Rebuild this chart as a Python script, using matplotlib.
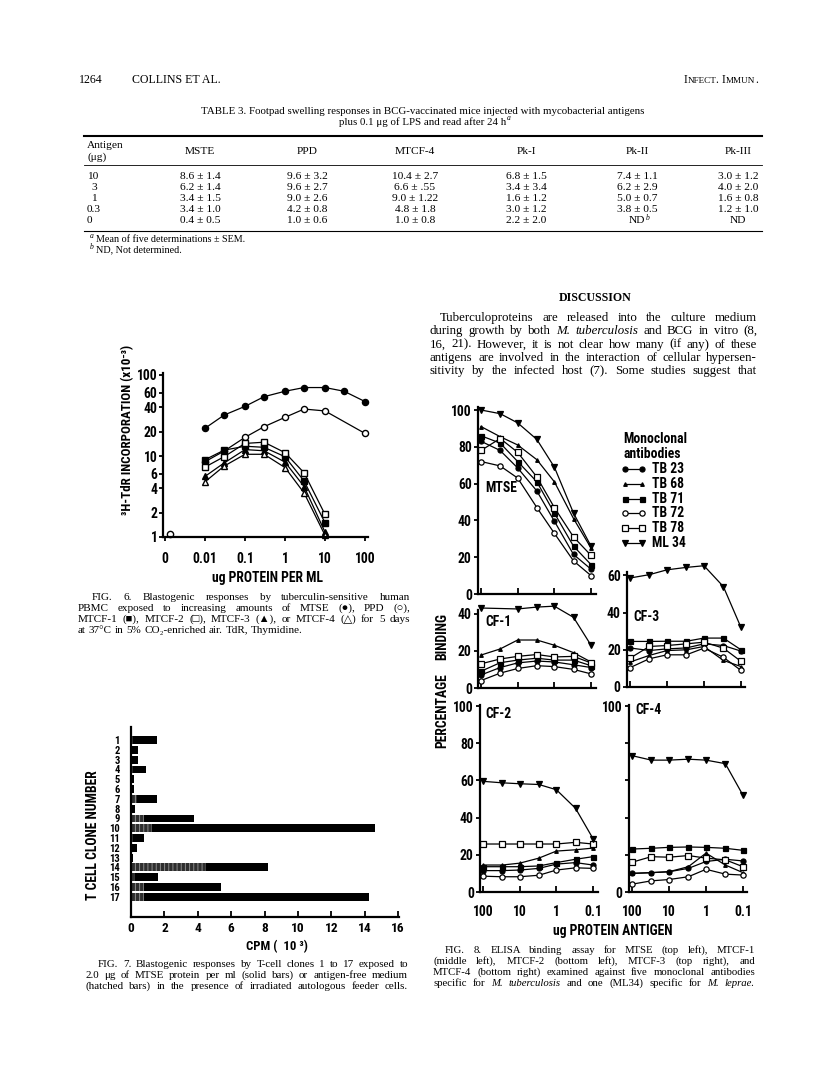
import numpy as np
import matplotlib
matplotlib.use('Agg')
import matplotlib.pyplot as plt
from matplotlib import font_manager as fm

W, H = 816, 1077

# ---------------- data ----------------
TABLE_TITLE = ['TABLE 3. Footpad swelling responses in BCG-vaccinated mice injected with mycobacterial antigens',
               'plus 0.1 \u03bcg of LPS and read after 24 h']
TABLE_COLS = ['MSTE', 'PPD', 'MTCF-4', 'Pk-I', 'Pk-II', 'Pk-III']
TABLE_DOSES = ['10', '3', '1', '0.3', '0']
TABLE_MEAN = [['8.6', '9.6', '10.4', '6.8', '7.4', '3.0'],
              ['6.2', '9.6', '6.6', '3.4', '6.2', '4.0'],
              ['3.4', '9.0', '9.0', '1.6', '5.0', '1.6'],
              ['3.4', '4.2', '4.8', '3.0', '3.8', '1.2'],
              ['0.4', '1.0', '1.0', '2.2', 'ND', 'ND']]
TABLE_SEM = [['1.4', '3.2', '2.7', '1.5', '1.1', '1.2'],
             ['1.4', '2.7', '.55', '3.4', '2.9', '2.0'],
             ['1.5', '2.6', '1.22', '1.2', '0.7', '0.8'],
             ['1.0', '0.8', '1.8', '1.2', '0.5', '1.0'],
             ['0.5', '0.6', '0.8', '2.0', None, None]]

FIG6_DOSE = [0.01, 0.03, 0.1, 0.3, 1, 3, 10, 30, 100]
FIG6_MTSE = [22, 32, 41, 54, 63, 70, 70, 63, 47]
FIG6_PPD_DOSE = [0.01, 0.03, 0.1, 0.3, 1, 3, 10, 100]
FIG6_PPD = [8.5, 11.5, 17, 23, 30, 38, 36, 19]
FIG6_CF_DOSE = [0.01, 0.03, 0.1, 0.3, 1, 3, 10]
FIG6_MTCF1 = [9.0, 11.8, 13.2, 12.8, 9.8, 4.9, 1.5]
FIG6_MTCF2 = [7.3, 9.8, 14.3, 14.8, 11.0, 6.2, 1.9]
FIG6_MTCF3 = [5.6, 8.2, 12.0, 11.6, 8.4, 4.2, 1.15]
FIG6_MTCF4 = [4.8, 7.5, 10.5, 10.5, 7.2, 3.5, 1.05]
FIG6_CONTROL = 1.1

FIG7_CLONES = [str(i) for i in range(1, 18)]
FIG7_MTSE = [1.55, 0.4, 0.4, 0.88, 0.2, 0.2, 1.53, 0.24, 3.75, 14.6, 0.8, 0.36, 0.14, 8.2, 1.6, 5.4, 14.26]
FIG7_MEDIUM = [0.1, 0.05, 0.05, 0.1, 0.05, 0.05, 0.35, 0.05, 0.75, 1.25, 0.1, 0.05, 0.05, 4.5, 0.25, 0.75, 0.8]

FIG8_DOSE = [100, 30, 10, 3, 1, 0.3, 0.1]
ANTIBODIES = ['TB 23', 'TB 68', 'TB 71', 'TB 72', 'TB 78', 'ML 34']
nan = np.nan
MTSE_BIND = {'TB 23': [83, 78, 68.5, 56, 39.6, 21.5, 13.5],
             'TB 68': [91, 85.5, 81, 73, 61, 41, 25],
             'TB 71': [86, 82, 72, 61, 44, 26, 16],
             'TB 72': [72, 69.6, 63, 47, 33, 18, 10],
             'TB 78': [78, 84.5, 77, 63.6, 47, 31, 21],
             'ML 34': [100, 98, 93, 84, 69, 44, 26]}
CF1_BIND = {'TB 23': [7, 11, 13.5, 14.5, 14, 12.5, 11],
            'TB 68': [17.7, 21, 25.8, 25.8, 23, 19, 14],
            'TB 71': [9, 13.6, 15, 16, 15, 15, 12],
            'TB 72': [4, 8, 10.5, 12, 11.5, 10, 7.6],
            'TB 78': [13, 15.6, 17, 18, 16.7, 17, 13.5],
            'ML 34': [43, nan, 42.5, 43.5, 44, 38, 23]}
CF2_BIND = {'TB 23': [11.5, 11.5, 11.8, 12.7, 15, 15.8, 14.5],
            'TB 68': [14.5, 14.5, 15.5, 18.2, 22, 22.7, 23.6],
            'TB 71': [13.6, 13.6, 13.6, 14, 15.8, 17.6, 19],
            'TB 72': [8.5, 8.2, 8.2, 9, 11.8, 13, 12.7],
            'TB 78': [25.8, 25.8, 25.8, 25.8, 25.8, 26.7, 25.8],
            'ML 34': [59.5, 58.7, 58.2, 57.8, 55, 45, 28.7]}
CF3_BIND = {'TB 23': [21, 19.6, 20.5, 21, 23.2, 22.3, 19.3],
            'TB 68': [13.4, 17, 19.6, 20, 21.8, 14.3, 11],
            'TB 71': [24.5, 24.5, 24.6, 24.6, 26.3, 26.3, 20],
            'TB 72': [10.4, 15.2, 17.3, 17.3, 20.9, 16, 8.9],
            'TB 78': [15.5, 21.8, 22.3, 23.2, 24.1, 20.9, 13.8],
            'ML 34': [58.6, 60.4, 63, 64.3, 65.2, 54, 32]}
CF4_BIND = {'TB 23': [10, 10.4, 10.9, 12.7, 16.4, 17.6, 16.7],
            'TB 68': [10, 10.4, 10.9, 13.6, 20.9, 14.5, 10.4],
            'TB 71': [23.1, 23.5, 24, 24.2, 24, 23.5, 22.4],
            'TB 72': [4.2, 6, 6.7, 8.2, 12.2, 9.6, 9.1],
            'TB 78': [16, 19, 18.7, 19.6, 18.2, 17.3, 13.6],
            'ML 34': [73.3, 70.9, 70.9, 71.4, 70.9, 69, 52]}

BODY = ['Tuberculoproteins are released into the culture medium',
        'during growth by both _M._ _tuberculosis_ and BCG in vitro (8,',
        '16, 21). However, it is not clear how many (if any) of these',
        'antigens are involved in the interaction of cellular hypersen-',
        'sitivity by the infected host (7). Some studies suggest that']
CAP6 = ['FIG. 6. Blastogenic responses by tuberculin-sensitive human',
        'PBMC exposed to increasing amounts of MTSE (\u25cf), PPD (\u25cb),',
        'MTCF-1 (\u25a0), MTCF-2 (\u25a1), MTCF-3 (\u25b2), or MTCF-4 (\u25b3) for 5 days',
        'at 37\u00b0C in 5% CO\u2082-enriched air. TdR, Thymidine.']
CAP7 = ['FIG. 7. Blastogenic responses by T-cell clones 1 to 17 exposed to',
        '2.0 \u03bcg of MTSE protein per ml (solid bars) or antigen-free medium',
        '(hatched bars) in the presence of irradiated autologous feeder cells.']
CAP8 = ['FIG. 8. ELISA binding assay for MTSE (top left), MTCF-1',
        '(middle left), MTCF-2 (bottom left), MTCF-3 (top right), and',
        'MTCF-4 (bottom right) examined against five monoclonal antibodies',
        'specific for _M._ _tuberculosis_ and one (ML34) specific for _M._ _leprae._']

# ---------------- fonts ----------------
SERIF = ['Liberation Serif', 'DejaVu Serif', 'DejaVu Sans']


def pick_condensed():
    entries = fm.fontManager.ttflist
    names = {f.name for f in entries}
    for n in ['Liberation Sans Narrow', 'Roboto Condensed', 'DejaVu Sans Condensed',
              'Noto Sans Condensed', 'Open Sans Condensed', 'Arial Narrow']:
        if n in names:
            return dict(family=[n, 'DejaVu Sans'], weight='bold')
    for f in entries:
        if 'Narrow' in f.name or 'Condensed' in f.name:
            return dict(family=[f.name, 'DejaVu Sans'], weight='bold')
    for f in entries:
        if str(f.stretch) in ('condensed', 'semi-condensed', 'extra-condensed'):
            return dict(family=[f.name, 'DejaVu Sans'], weight='bold', stretch=f.stretch)
    for n in ['Roboto', 'Liberation Sans']:
        if n in names:
            return dict(family=[n, 'DejaVu Sans'], weight='bold')
    return dict(family=['DejaVu Sans'], weight='bold')


CK = pick_condensed()

fig = plt.figure(figsize=(W / 100, H / 100), dpi=100)
R = fig.canvas.get_renderer()
ov = fig.add_axes([0, 0, 1, 1])
ov.set_xlim(0, W)
ov.set_ylim(H, 0)
ov.axis('off')


def txt(x, y, s, size, ha='left', va='center', **kw):
    return fig.text(x / W, 1 - y / H, s, fontsize=size, ha=ha, va=va, **kw)


def width(s, size, **kw):
    t = fig.text(0, 0, s, fontsize=size, **kw)
    w = t.get_window_extent(R).width
    t.remove()
    return w


def para(lines, x0, x1, y0, dy, size, indent=0, justify_last=True, slack=0.95):
    # justified column text; font size fitted to the column, leaving a little slack
    toks = [[(w.strip('_'), w.startswith('_')) for w in ln.split()] for ln in lines]

    def wl(w, it, s):
        return width(w, s, family=SERIF, style='italic' if it else 'normal')
    sp = width('a a', size, family=SERIF) - width('aa', size, family=SERIF)
    nat = [sum(wl(w, it, size) for w, it in t) + sp * (len(t) - 1) + (indent if i == 0 else 0)
           for i, t in enumerate(toks)]
    rng = range(len(toks)) if justify_last else range(len(toks) - 1)
    scale = slack * min((x1 - x0) / nat[i] for i in rng)
    size *= scale
    sp *= scale
    base = 0.33 * size * 100 / 72
    for i, t in enumerate(toks):
        ws = [wl(w, it, size) for w, it in t]
        xs = x0 + (indent if i == 0 else 0)
        last = i == len(toks) - 1
        gap = (x1 - xs - sum(ws)) / (len(t) - 1) if (len(t) > 1 and (justify_last or not last)) else sp * 1.05
        x = xs
        for (w, it), w_ in zip(t, ws):
            txt(x, y0 + i * dy + base, w, size, va='baseline', family=SERIF,
                style='italic' if it else 'normal')
            x += w_ + gap


def axes_px(x0, y0, x1, y1):
    a = fig.add_axes([x0 / W, 1 - y1 / H, (x1 - x0) / W, (y1 - y0) / H])
    a.patch.set_visible(False)
    for s in ['top', 'right']:
        a.spines[s].set_visible(False)
    for s in ['left', 'bottom']:
        a.spines[s].set_linewidth(1.6)
    a.minorticks_off()
    return a


# ---------------- header & table ----------------
txt(79, 80, '1264', 8.6, family=SERIF)
txt(132, 80, 'COLLINS ET AL.', 8.6, family=SERIF)
pieces = [('I', 8.4), ('NFECT', 6.6), ('. ', 8.4), ('I', 8.4), ('MMUN', 6.6), ('.', 8.4)]
tot = sum(width(p, s, family=SERIF) for p, s in pieces)
x = 758 - tot
for p, s in pieces:
    txt(x, 83, p, s, va='baseline', family=SERIF)
    x += width(p, s, family=SERIF)

txt(423, 111, TABLE_TITLE[0], 7.8, ha='center', family=SERIF)
txt(423, 122, TABLE_TITLE[1], 7.8, ha='center', family=SERIF)
w2 = width(TABLE_TITLE[1], 7.8, family=SERIF)
txt(423 + w2 / 2 + 0.5, 118, 'a', 5.5, ha='left', family=SERIF, style='italic')

ov.plot([84, 762], [136, 136], color='k', lw=1.5)
ov.plot([84, 762], [165, 165], color='k', lw=0.6)
ov.plot([84, 762], [231, 231], color='k', lw=0.8)

COL_X = [200, 307, 415, 526, 637, 738]
TS = 8.2
txt(87, 146, 'Antigen', TS, family=SERIF)
txt(87, 157, '(\u03bcg)', TS, family=SERIF)
for cx, c in zip(COL_X, TABLE_COLS):
    txt(cx, 151, c, TS, ha='center', family=SERIF)
DOSE_X = [87, 91, 91, 87, 87]
for i, d in enumerate(TABLE_DOSES):
    y = 176.5 + 11 * i
    txt(DOSE_X[i], y, d, TS, family=SERIF)
    for j, cx in enumerate(COL_X):
        m, s = TABLE_MEAN[i][j], TABLE_SEM[i][j]
        if s is None:
            txt(cx, y, m, TS, ha='center', family=SERIF)
            if j == 4:
                txt(cx + width(m, TS, family=SERIF) / 2 + 0.5, y - 3, 'b', 5.5, family=SERIF, style='italic')
        else:
            txt(cx, y, f'{m} \u00b1 {s}', TS, ha='center', family=SERIF)

txt(90, 236, 'a', 5.5, family=SERIF, style='italic')
txt(96, 239, 'Mean of five determinations \u00b1 SEM.', 7.3, family=SERIF)
txt(90, 247, 'b', 5.5, family=SERIF, style='italic')
txt(96, 250, 'ND, Not determined.', 7.3, family=SERIF)

# ---------------- discussion ----------------
txt(595, 298, 'DISCUSSION', 8.6, ha='center', family=SERIF, weight='bold')
para(BODY, 430, 757, 317, 13.2, 9.0, indent=10, slack=0.95)

# ---------------- Fig 6 ----------------
ax6 = axes_px(163, 373, 368, 537)
ax6.set_xscale('log')
ax6.set_yscale('log')
ax6.set_xlim(10 ** -3.05, 10 ** 2.075)
ax6.set_ylim(1, 10 ** (2 + 2 / 81))
lk = dict(color='k', lw=0.9, ms=4.4, clip_on=False)
ax6.plot(FIG6_DOSE, FIG6_MTSE, marker='o', mfc='k', mec='k', **lk)
ax6.plot(FIG6_PPD_DOSE, FIG6_PPD, marker='o', mfc='w', mec='k', **lk)
ax6.plot(FIG6_CF_DOSE, FIG6_MTCF1, marker='s', mfc='k', mec='k', **lk)
ax6.plot(FIG6_CF_DOSE, FIG6_MTCF2, marker='s', mfc='w', mec='k', **lk)
ax6.plot(FIG6_CF_DOSE, FIG6_MTCF3, marker='^', mfc='k', mec='k', **lk)
ax6.plot(FIG6_CF_DOSE, FIG6_MTCF4, marker='^', mfc='w', mec='k', **lk)
ax6.errorbar([0.0013], [FIG6_CONTROL], yerr=[[0.07], [0.08]], fmt='o', mfc='w', mec='k',
             ms=4.5, ecolor='k', elinewidth=0.9, capsize=0, clip_on=False)
ax6.set_xticks([0.001, 0.01, 0.1, 1, 10, 100])
ax6.set_xticklabels(['0', '0.01', '0.1', '1', '10', '100'], size=9.8, **CK)
ax6.set_yticks([1, 2, 4, 6, 10, 20, 40, 60, 100])
ax6.set_yticklabels(['1', '2', '4', '6', '10', '20', '40', '60', '100'], size=9.8, **CK)
ax6.minorticks_off()
ax6.tick_params(axis='x', direction='out', length=3, width=1.3, pad=8)
ax6.tick_params(axis='y', direction='out', length=3, width=1.3, pad=1)
txt(128, 430, '\u00b3H-TdR INCORPORATION (x10\u207b\u00b3)', 9.4, ha='center', rotation=90, **CK)
txt(267, 578, 'ug PROTEIN PER ML', 9.8, ha='center', **CK)
para(CAP6, 78, 410, 596, 11, 8.2, indent=14, justify_last=False, slack=0.93)

# ---------------- Fig 7 ----------------
ax7 = axes_px(131, 727, 399, 917)
yy = np.arange(1, len(FIG7_CLONES) + 1)
ax7.barh(yy, FIG7_MTSE, height=0.8, color='k', lw=0)
plt.rcParams['hatch.linewidth'] = 0.7
ax7.barh(yy, FIG7_MEDIUM, height=0.8, color='#2e2e2e', hatch='||||', edgecolor='#8a8a8a', lw=0)
ax7.set_xlim(0, 16.05)
ax7.set_ylim(19.06, -0.33)
ax7.set_yticks(yy)
ax7.set_yticklabels(FIG7_CLONES, size=7.6, **CK)
ax7.set_xticks(range(0, 17, 2))
ax7.set_xticklabels([str(v) for v in range(0, 17, 2)], size=9.6, **CK)
ax7.tick_params(axis='y', length=0, pad=8)
ax7.tick_params(axis='x', direction='in', length=4, width=1.3, pad=3.5)
txt(93, 835, 'T CELL CLONE NUMBER', 9.8, ha='center', rotation=90, **CK)
txt(277, 947, 'CPM (  10 \u00b3)', 9.2, ha='center', **CK)
para(CAP7, 85, 408, 963, 11, 8.2, indent=13, slack=0.93)

# ---------------- Fig 8 ----------------
MARK = {'TB 23': ('o', 'k', 3.6), 'TB 68': ('^', 'k', 2.6), 'TB 71': ('s', 'k', 3.6),
        'TB 72': ('o', 'w', 3.8), 'TB 78': ('s', 'w', 4.0), 'ML 34': ('v', 'k', 3.8)}


def elisa(box, xl, top, data, yt, ytl, xlab):
    a = axes_px(*box)
    a.set_xscale('log')
    a.set_xlim(*xl)
    a.set_ylim(0, top)
    for ab in ANTIBODIES:
        v = np.array(data[ab], dtype=float)
        x = np.array(FIG8_DOSE, dtype=float)
        ok = ~np.isnan(v)
        m, fc, ms = MARK[ab]
        a.plot(x[ok], v[ok], color='k', lw=0.9, marker=m, mfc=fc, mec='k', ms=ms, mew=0.9, clip_on=False)
    a.set_xticks([100, 10, 1, 0.1])
    if xlab:
        a.set_xticklabels(['100', '10', '1', '0.1'], size=9.8, **CK)
    else:
        a.set_xticklabels([])
    a.set_yticks(yt)
    a.set_yticklabels(ytl, size=9.8, **CK)
    a.minorticks_off()
    a.tick_params(axis='x', direction='in', length=4, width=1.3, pad=9)
    a.tick_params(axis='y', direction='out', length=3, width=1.3, pad=1.5)
    return a


XL_L = (10 ** (2 + 3 / 36.67), 10 ** (-1 - 5 / 36.67))
XL_R = (10 ** (2 + 3 / 37), 10 ** (-1 - 4 / 37))
Y100 = [0, 20, 40, 60, 80, 100]
elisa((478, 407, 596, 594), XL_L, 187 / 1.84, MTSE_BIND, Y100, [str(v) for v in Y100], False)
elisa((478, 610, 596, 688), XL_L, 78 / 1.86, CF1_BIND, [0, 20, 40], ['0', '20', '40'], False)
elisa((480, 705, 598, 892), XL_L, 187 / 1.86, CF2_BIND, Y100, [str(v) for v in Y100], True)
elisa((627, 572, 745, 687), XL_R, 115 / 1.86, CF3_BIND, [0, 20, 40, 60], ['0', '20', '40', '60'], False)
elisa((629, 705, 747, 892), XL_R, 187 / 1.86, CF4_BIND, Y100, ['0', '', '', '', '', '100'], True)

for lab, x, y in [('MTSE', 485, 488), ('CF-1', 485, 622), ('CF-2', 485, 714),
                  ('CF-3', 633, 617), ('CF-4', 635, 710)]:
    txt(x, y, lab, 9.8, **CK)

txt(623, 439, 'Monoclonal', 9.8, **CK)
txt(624, 454, 'antibodies', 9.8, **CK)
for i, ab in enumerate(ANTIBODIES):
    y = 469 + 14.8 * i
    m, fc, ms = MARK[ab]
    ov.plot([625, 642], [y, y], color='k', lw=0.9, marker=m, mfc=fc, mec='k', ms=ms, mew=0.9)
    txt(652, y, ab, 9.8, **CK)

txt(442, 636, 'BINDING', 9.8, ha='center', rotation=90, **CK)
txt(442, 711, 'PERCENTAGE', 9.8, ha='center', rotation=90, **CK)
txt(613, 931, 'ug PROTEIN ANTIGEN', 9.8, ha='center', **CK)
para(CAP8, 433, 755, 949, 11, 8.2, indent=12, slack=0.93)

fig.savefig('out.png', dpi=100)
